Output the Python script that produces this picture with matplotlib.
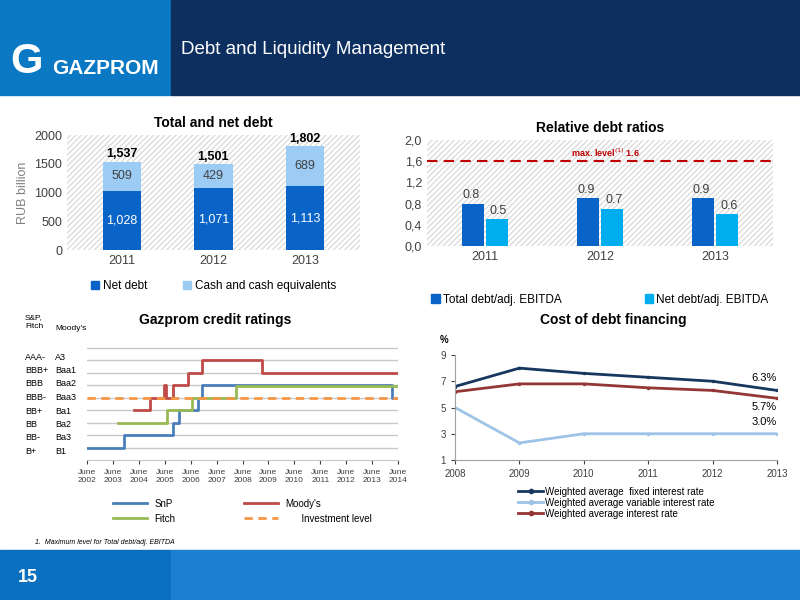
import matplotlib.pyplot as plt
import matplotlib.patches as mpatches
from matplotlib.lines import Line2D
import numpy as np

plt.rcParams['font.family'] = ['Liberation Sans', 'DejaVu Sans']

# --- data ---
years = ['2011', '2012', '2013']
net_debt = [1028, 1071, 1113]
cash = [509, 429, 689]
total_debt = [1537, 1501, 1802]

ratio_total = [0.8, 0.9, 0.9]
ratio_net = [0.5, 0.7, 0.6]
max_level = 1.6

cost_years = [2008, 2009, 2010, 2011, 2012, 2013]
rate_fixed = [6.6, 8.0, 7.6, 7.3, 7.0, 6.3]
rate_variable = [5.0, 2.3, 3.0, 3.0, 3.0, 3.0]
rate_average = [6.2, 6.8, 6.8, 6.5, 6.3, 5.7]

# rating steps: x = years since June 2002, y = rating level (grid index)
snp_x = [0, 1.41, 1.41, 3.3, 3.3, 3.56, 3.56, 4.29, 4.29, 4.42, 4.42, 11.77, 11.77, 12]
snp_y = [0, 0, 1, 1, 2, 2, 3, 3, 4, 4, 5, 5, 4, 4]
fitch_x = [1.18, 3.1, 3.1, 4.04, 4.04, 5.74, 5.74, 12]
fitch_y = [2, 2, 3, 3, 4, 4, 4.9, 4.9]
moody_x = [1.8, 2.44, 2.44, 2.98, 2.98, 3.04, 3.04, 3.3, 3.3, 3.88, 3.88, 4.45, 4.45, 6.77, 6.77, 12]
moody_y = [3, 3, 4, 4, 5, 5, 4, 4, 5, 5, 6, 6, 7, 7, 6, 6]
invest_level = 4
sp_labels = ['AAA-', 'BBB+', 'BBB', 'BBB-', 'BB+', 'BB', 'BB-', 'B+']
moody_labels = ['A3', 'Baa1', 'Baa2', 'Baa3', 'Ba1', 'Ba2', 'Ba3', 'B1']
june_years = [str(y) for y in range(2002, 2015)]

W, H = 800, 600
fig = plt.figure(figsize=(8, 6), dpi=100)


def px_axes(x0, y0, x1, y1):
    return fig.add_axes([x0 / W, 1 - y1 / H, (x1 - x0) / W, (y1 - y0) / H])


# header / footer
fig.patches.append(mpatches.Rectangle((0, 1 - 95 / H), 170 / W, 95 / H, transform=fig.transFigure, color='#0a78c2'))
fig.patches.append(mpatches.Rectangle((171 / W, 1 - 95 / H), 629 / W, 95 / H, transform=fig.transFigure, color='#0d2f5f'))
fig.patches.append(mpatches.Rectangle((0, 0), 170 / W, 50 / H, transform=fig.transFigure, color='#0a6fbe'))
fig.patches.append(mpatches.Rectangle((171 / W, 0), 629 / W, 50 / H, transform=fig.transFigure, color='#1c7fd0'))
fig.text(10 / W, 1 - 62 / H, 'G', color='white', fontsize=30, fontweight='bold', va='center')
fig.text(52 / W, 1 - 68 / H, 'GAZPROM', color='white', fontsize=15, fontweight='bold', va='center')
fig.text(181 / W, 1 - 50 / H, 'Debt and Liquidity Management', color='white', fontsize=13.5, va='center')
fig.text(18 / W, 1 - 577 / H, '15', color='white', fontsize=13, fontweight='bold', va='center')
fig.text(35 / W, 1 - 544 / H, '1.  Maximum level for Total debt/adj. EBITDA', fontsize=5, style='italic')


def hatch_bg(ax):
    ax.add_patch(mpatches.Rectangle((0, 0), 1, 1, transform=ax.transAxes, facecolor='white',
                                    edgecolor='#dcdcdc', hatch='//////', lw=0, zorder=0))
    for s in ax.spines.values():
        s.set_visible(False)


# --- Total and net debt ---
ax1 = px_axes(67, 135, 360, 250)
hatch_bg(ax1)
x = np.arange(3)
ax1.bar(x, net_debt, 0.42, color='#0a64c8', zorder=2)
ax1.bar(x, cash, 0.42, bottom=net_debt, color='#9ccbf4', zorder=2)
for i in range(3):
    ax1.text(x[i], net_debt[i] / 2, f'{net_debt[i]:,}', ha='center', va='center', color='white', fontsize=9)
    ax1.text(x[i], net_debt[i] + cash[i] / 2, str(cash[i]), ha='center', va='center', color='#404040', fontsize=9)
    ax1.text(x[i], total_debt[i] + 20, f'{total_debt[i]:,}', ha='center', va='bottom', fontsize=9, fontweight='bold')
ax1.set_xlim(-0.6, 2.6)
ax1.set_ylim(0, 2000)
ax1.set_yticks([0, 500, 1000, 1500, 2000])
ax1.set_xticks(x, years)
ax1.tick_params(length=0, labelsize=9, colors='#404040')
ax1.set_ylabel('RUB billion', fontsize=9, color='#808080')
ax1.set_title('Total and net debt', fontsize=10, fontweight='bold', pad=6)
ax1.legend(handles=[mpatches.Patch(color='#0a64c8', label='Net debt'),
                    mpatches.Patch(color='#9ccbf4', label='Cash and cash equivalents')],
           loc='upper center', bbox_to_anchor=(0.5, -0.17), ncol=2, frameon=False, fontsize=8.5,
           handlelength=0.7, handletextpad=0.3, columnspacing=3)

# --- Relative debt ratios ---
ax2 = px_axes(427, 140, 773, 246)
hatch_bg(ax2)
ax2.bar(x - 0.105, ratio_total, 0.19, color='#0a64c8', zorder=2)
ax2.bar(x + 0.105, ratio_net, 0.19, color='#00aeef', zorder=2)
for i in range(3):
    ax2.text(x[i] - 0.12, ratio_total[i] + 0.05, f'{ratio_total[i]}', ha='center', va='bottom', fontsize=9, color='#404040')
    ax2.text(x[i] + 0.12, ratio_net[i] + 0.05, f'{ratio_net[i]}', ha='center', va='bottom', fontsize=9, color='#404040')
ax2.axhline(max_level, color='#c00000', ls=(0, (5, 3)), lw=1.5, zorder=3)
ax2.text(1.05, max_level + 0.04, 'max. level$^{(1)}$ 1.6', color='#c00000', fontsize=6.5, fontweight='bold', ha='center', va='bottom')
ax2.set_xlim(-0.5, 2.5)
ax2.set_ylim(0, 2.0)
ax2.set_yticks(np.arange(0, 2.01, 0.4), ['0,0', '0,4', '0,8', '1,2', '1,6', '2,0'])
ax2.set_xticks(x, years)
ax2.tick_params(length=0, labelsize=9, colors='#404040')
ax2.set_title('Relative debt ratios', fontsize=10, fontweight='bold', pad=6)
ax2.legend(handles=[mpatches.Patch(color='#0a64c8', label='Total debt/adj. EBITDA'),
                    mpatches.Patch(color='#00aeef', label='Net debt/adj. EBITDA')],
           loc='upper center', bbox_to_anchor=(0.5, -0.35), ncol=2, frameon=False, fontsize=8.5,
           handlelength=0.7, handletextpad=0.3, columnspacing=7)

# --- Gazprom credit ratings ---
ax3 = px_axes(87, 335, 398, 460)
for lv in range(0, 9):
    ax3.axhline(lv, color='#c8c8c8', lw=1, zorder=0)
ax3.plot(snp_x, snp_y, color='#4a7ebb', lw=2)
ax3.plot(fitch_x, fitch_y, color='#98b954', lw=2)
ax3.plot(moody_x, moody_y, color='#be4b48', lw=2)
ax3.axhline(invest_level, color='#f79646', ls=(0, (3, 2)), lw=2)
ax3.set_xlim(0, 12)
ax3.set_ylim(-1, 9)
ax3.set_yticks([])
ax3.set_xticks(range(13), [f'June\n{y}' for y in june_years])
ax3.tick_params(labelsize=6, colors='#404040', length=3)
for s in ['top', 'right', 'left']:
    ax3.spines[s].set_visible(False)
ax3.spines['bottom'].set_color('#c8c8c8')
fig.text(25 / W, 1 - 322 / H, 'S&P,\nFitch', fontsize=6, va='center')
fig.text(55 / W, 1 - 329 / H, "Moody's", fontsize=6, va='center')
for i, (a, b) in enumerate(zip(sp_labels, moody_labels)):
    yy = 357 + i * 13.5
    fig.text(25 / W, 1 - yy / H, a, fontsize=6.5, va='center')
    fig.text(55 / W, 1 - yy / H, b, fontsize=6.5, va='center')
fig.text(215 / W, 1 - 320 / H, 'Gazprom credit ratings', fontsize=10, fontweight='bold', ha='center', va='center')
h3 = [Line2D([], [], color='#4a7ebb', lw=2, label='SnP'),
      Line2D([], [], color='#98b954', lw=2, label='Fitch'),
      Line2D([], [], color='#be4b48', lw=2, label="Moody's"),
      Line2D([], [], color='#f79646', lw=2, ls=(0, (3, 2)), label='      Investment level')]
ax3.legend(handles=h3, loc='upper center', bbox_to_anchor=(0.5, -0.24), ncol=2, frameon=False, fontsize=7,
           columnspacing=7, handlelength=3.5)

# --- Cost of debt financing ---
ax4 = px_axes(455, 355, 777, 460)
ax4.plot(cost_years, rate_fixed, color='#17375e', lw=2, marker='.', ms=3)
ax4.plot(cost_years, rate_variable, color='#9dc3e6', lw=2, marker='.', ms=3)
ax4.plot(cost_years, rate_average, color='#943634', lw=2, marker='.', ms=3)
ax4.text(2013, rate_fixed[-1] + 0.6, f'{rate_fixed[-1]}%', ha='right', va='bottom', fontsize=8)
ax4.text(2013, rate_average[-1] - 0.3, f'{rate_average[-1]}%', ha='right', va='top', fontsize=8)
ax4.text(2013, rate_variable[-1] + 0.5, f'{rate_variable[-1]:.1f}%', ha='right', va='bottom', fontsize=8)
ax4.set_xlim(2008, 2013)
ax4.set_ylim(1, 9)
ax4.set_yticks([1, 3, 5, 7, 9])
ax4.set_xticks(cost_years)
ax4.tick_params(labelsize=7, colors='#404040', length=3)
for s in ['top', 'right']:
    ax4.spines[s].set_visible(False)
ax4.spines['left'].set_color('#a0a0a0')
ax4.spines['bottom'].set_color('#a0a0a0')
fig.text(440 / W, 1 - 340 / H, '%', fontsize=7, fontweight='bold', va='center')
fig.text(613 / W, 1 - 320 / H, 'Cost of debt financing', fontsize=10, fontweight='bold', ha='center', va='center')
h4 = [Line2D([], [], color='#17375e', lw=2, marker='.', label='Weighted average  fixed interest rate'),
      Line2D([], [], color='#9dc3e6', lw=2, marker='.', label='Weighted average variable interest rate'),
      Line2D([], [], color='#943634', lw=2, marker='.', label='Weighted average interest rate')]
ax4.legend(handles=h4, loc='upper left', bbox_to_anchor=(0.17, -0.17), frameon=False, fontsize=7,
           handlelength=2.5, labelspacing=0.1, handletextpad=0.2)

fig.savefig('out.png', dpi=100)
